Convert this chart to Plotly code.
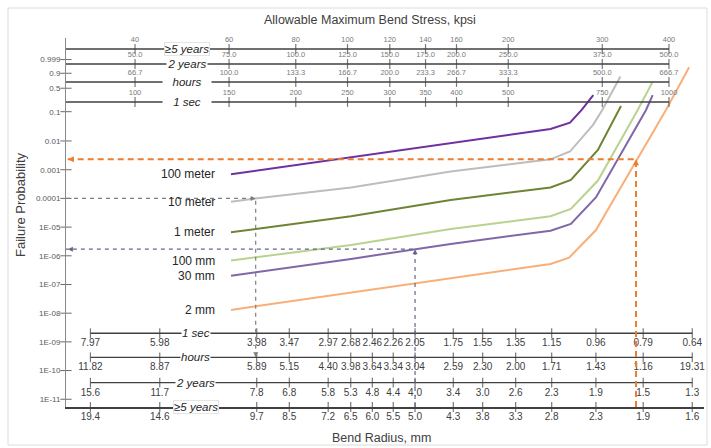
import math
import plotly.graph_objects as go

# ---------------- data ----------------
prob_ticks = [0.999, 0.9, 0.5, 0.1, 0.01, 0.001, 0.0001, 1e-5, 1e-6, 1e-7, 1e-8, 1e-9, 1e-10, 1e-11]
prob_tick_text = ["0.999", "0.9", "0.5", "0.1", "0.01", "0.001", "0.0001", "1E-05", "1E-06",
                  "1E-07", "1E-08", "1E-09", "1E-10", "1E-11"]

# top scales: allowable maximum bend stress, kpsi (positions = >=5 years stress)
stress_5yr_ticks = [40, 60, 80, 100, 120, 140, 160, 200, 300, 400]
top_labels_5yr = ["40", "60", "80", "100", "120", "140", "160", "200", "300", "400"]
top_labels_2yr = ["50.0", "75.0", "100.0", "125.0", "150.0", "175.0", "200.0", "250.0", "375.0", "500.0"]
top_labels_hours = ["66.7", "100.0", "133.3", "166.7", "200.0", "233.3", "266.7", "333.3", "500.0", "666.7"]
top_labels_1sec = ["100", "150", "200", "250", "300", "350", "400", "500", "750", "1000"]

# bottom scales: bend radius, mm (columns located at these >=5-year stresses, kpsi)
radius_col_stress = [33.0, 44.5, 67.6, 77.8, 92.0, 101.4, 111.3, 121.8, 133.8, 157.8,
                     179.1, 206.5, 241.2, 291.9, 357.9, 442.3]
radius_1sec = ["7.97", "5.98", "3.98", "3.47", "2.97", "2.68", "2.46", "2.26", "2.05", "1.75",
               "1.55", "1.35", "1.15", "0.96", "0.79", "0.64"]
radius_hours = ["11.82", "8.87", "5.89", "5.15", "4.40", "3.98", "3.64", "3.34", "3.04", "2.59",
                "2.30", "2.00", "1.71", "1.43", "1.16", "19.31"]
radius_2yr = ["15.6", "11.7", "7.8", "6.8", "5.8", "5.3", "4.8", "4.4", "4.0", "3.4",
              "3.0", "2.6", "2.3", "1.9", "1.5", "1.3"]
radius_5yr = ["19.4", "14.6", "9.7", "8.5", "7.2", "6.5", "6.0", "5.5", "5.0", "4.3",
              "3.8", "3.3", "2.8", "2.3", "1.9", "1.6"]

# failure-probability curves (x = >=5 year stress, kpsi ; y = failure probability)
curve_names = ["100 meter", "10 meter", "1 meter", "100 mm", "30 mm", "2 mm"]
stress_100m = [60.5, 101.5, 156, 240, 261, 274.5, 288.6]
prob_100m = [6.9e-4, 2.7e-3, 8.8e-3, 0.026, 0.043, 0.114, 0.33]
stress_10m = [60.5, 67.2, 101.5, 156, 240, 261, 288.3, 300, 324.4]
prob_10m = [7.6e-5, 1.0e-4, 2.4e-4, 8.6e-4, 2.3e-3, 4.3e-3, 0.036, 0.114, 0.83]
stress_1m = [60.5, 101.5, 156, 240, 262, 294.4, 325.2]
prob_1m = [6.6e-6, 2.4e-5, 8.8e-5, 2.4e-4, 4.4e-4, 4.9e-3, 0.153]
stress_100mm = [60.5, 101.5, 156, 240, 262, 294.4, 349.5, 372.8]
prob_100mm = [6.8e-7, 2.4e-6, 8.6e-6, 2.4e-5, 4.3e-5, 4.2e-4, 0.114, 0.69]
stress_30mm = [60.5, 101.5, 156, 240, 262, 292.1, 362.3, 372.8]
prob_30mm = [2.0e-7, 7.8e-7, 2.6e-6, 7.5e-6, 1.3e-5, 1.1e-4, 0.114, 0.33]
stress_2mm = [60.5, 101.5, 156, 240, 260, 292, 314.8, 348.6, 394.8, 436.3]
prob_2mm = [1.3e-8, 5.2e-8, 1.65e-7, 5.2e-7, 8.6e-7, 7.9e-6, 8.8e-5, 2.3e-3, 0.114, 0.976]

# worked-example guide points (stress, probability)
guide_stress = [67.3, 133.8, 347.0]
guide_prob = [1.0e-4, 1.7e-6, 2.3e-3]

# ---------------- styling / layout ----------------
FONT = "Liberation Sans, Arial, sans-serif"
curve_colors = ["#7030A0", "#BDBDBD", "#6E8433", "#B9D38E", "#8068A8", "#F9AE78"]
curve_widths = [2, 2, 2, 2, 2, 2]

W_PX, H_PX = 711, 448
ML, MR, MT, MB = 66, 7, 38, 41
x_range = [math.log10(29.70), math.log10(465.2)]
y_range = [-25.95, 3.664]          # Weibull units ln(-ln(1-F))
x_min = 10 ** x_range[0]

top_levels = [2.781, 1.577, 0.133, -1.472]
bot_levels = [-20.03, -21.96, -24.0, y_range[0]]


def W(p):
    return math.log(-math.log1p(-p))


def pxx(px):
    return (px - ML) / (W_PX - ML - MR)


def pxy(py):
    return (H_PX - MB - py) / (H_PX - MT - MB)


fig = go.Figure()

# y axis cross ticks
fig.add_trace(go.Scatter(
    x=[x_min] * len(prob_ticks), y=[W(p) for p in prob_ticks], mode="markers",
    marker=dict(symbol="line-ew", size=8, line=dict(color="#6b6b6b", width=1)),
    cliponaxis=False, hoverinfo="skip", showlegend=False))

# curves
curves = [(stress_100m, prob_100m), (stress_10m, prob_10m), (stress_1m, prob_1m),
          (stress_100mm, prob_100mm), (stress_30mm, prob_30mm), (stress_2mm, prob_2mm)]
for (xs, ps), name, col, w in zip(curves, curve_names, curve_colors, curve_widths):
    fig.add_trace(go.Scatter(x=xs, y=[W(p) for p in ps], mode="lines", name=name,
                             line=dict(color=col, width=w), showlegend=False))


def add_row(xs, level, labels, above, lead=None, font_size=10, font_color="#404040",
            line_width=1.3, draw_line=True):
    x = list(xs)
    text = list(labels)
    sizes = [7] * len(xs)
    if lead is not None:
        x = [lead] + x
        text = [""] + text
        sizes = [0] + sizes
    fig.add_trace(go.Scatter(
        x=x, y=[level] * len(x),
        mode=("lines+markers+text" if draw_line else "markers+text"),
        line=dict(color="#404040", width=line_width),
        marker=dict(symbol="line-ns", size=sizes, color="#404040",
                    line=dict(color="#404040", width=1.2)),
        text=text, textposition=("top center" if above else "bottom center"),
        textfont=dict(size=font_size, color=font_color, family=FONT),
        cliponaxis=False, hoverinfo="skip", showlegend=False))


top_label_sets = [top_labels_5yr, top_labels_2yr, top_labels_hours, top_labels_1sec]
for lvl, labs, lw in zip(top_levels, top_label_sets, [1.5, 1.3, 1.3, 1.3]):
    add_row(stress_5yr_ticks, lvl, labs, True, lead=x_min, font_size=7.5,
            font_color="#7a7a7a", line_width=lw)

bot_label_sets = [radius_1sec, radius_hours, radius_2yr, radius_5yr]
for i, (lvl, labs) in enumerate(zip(bot_levels, bot_label_sets)):
    add_row(radius_col_stress, lvl, labs, False, font_size=10, font_color="#404040",
            draw_line=(i < 3))

# guides
guide_styles = [("#7f7f7f", 1.2, "4px,4px"), ("#63668a", 1.2, "4px,4px"), ("#ED7D31", 2, "6px,4px")]
gx, gy = guide_stress, [W(p) for p in guide_prob]
# 10 meter example: from axis to curve, then down to the "hours" scale
fig.add_trace(go.Scatter(x=[x_min, gx[0], gx[0]], y=[gy[0], gy[0], bot_levels[1]], mode="lines",
                         line=dict(color=guide_styles[0][0], width=guide_styles[0][1],
                                   dash=guide_styles[0][2]),
                         hoverinfo="skip", showlegend=False))
fig.add_trace(go.Scatter(x=[gx[0], gx[0]], y=[gy[0], bot_levels[1]], mode="markers",
                         marker=dict(symbol=["arrow-right", "arrow-down"], size=5,
                                     color=guide_styles[0][0]),
                         cliponaxis=False, hoverinfo="skip", showlegend=False))
# 30 mm and 2 mm examples: from bottom up to curve, then left to the axis
for k in (1, 2):
    col, lw, dash = guide_styles[k]
    fig.add_trace(go.Scatter(x=[gx[k], gx[k], x_min], y=[y_range[0], gy[k], gy[k]], mode="lines",
                             line=dict(color=col, width=lw, dash=dash),
                             hoverinfo="skip", showlegend=False))
    fig.add_trace(go.Scatter(x=[gx[k], x_min * 1.008], y=[gy[k], gy[k]], mode="markers",
                             marker=dict(symbol=["arrow-up", "arrow-left"], size=5 if k == 1 else 6,
                                         color=col),
                             cliponaxis=False, hoverinfo="skip", showlegend=False))

annotations = []
# curve labels
for (xs, ps), name in zip(curves, curve_names):
    annotations.append(dict(x=math.log10(57), y=W(ps[0]), xref="x", yref="y", text=name,
                            showarrow=False, xanchor="right", yanchor="middle",
                            font=dict(size=12, color="#262626", family=FONT)))

# scale names on the rows
row_names = ["\u22655 years", "2 years", "hours", "1 sec"]
top_widths = [44, 40, 48, 48]
for lvl, nm, wd in zip(top_levels, row_names, top_widths):
    annotations.append(dict(x=math.log10(50.0), y=lvl, xref="x", yref="y", text="<i>" + nm + "</i>",
                            showarrow=False, bgcolor="white", width=wd, borderpad=0,
                            xanchor="center", yanchor="middle",
                            bordercolor=("#e4e4e4" if nm.startswith("\u2265") else "rgba(0,0,0,0)"),
                            font=dict(size=11.5, color="#262626", family=FONT)))
for lvl, nm in zip(bot_levels, ["1 sec", "hours", "2 years", "\u22655 years"]):
    annotations.append(dict(x=math.log10(52.0), y=lvl, xref="x", yref="y", text="<i>" + nm + "</i>",
                            showarrow=False, bgcolor="white", borderpad=0,
                            xanchor="center", yanchor="middle",
                            bordercolor=("#e4e4e4" if nm.startswith("\u2265") else "rgba(0,0,0,0)"),
                            font=dict(size=11.5, color="#262626", family=FONT)))

# titles
annotations.append(dict(x=pxx(370), y=pxy(20), xref="paper", yref="paper",
                        xanchor="center", yanchor="middle",
                        text="Allowable Maximum Bend Stress, kpsi", showarrow=False,
                        font=dict(size=12.5, color="#404040", family=FONT)))
annotations.append(dict(x=pxx(381), y=pxy(438), xref="paper", yref="paper",
                        xanchor="center", yanchor="middle",
                        text="Bend Radius, mm", showarrow=False,
                        font=dict(size=12.5, color="#404040", family=FONT)))
annotations.append(dict(x=pxx(20), y=pxy(205), xref="paper", yref="paper",
                        xanchor="center", yanchor="middle",
                        text="Failure Probability", showarrow=False, textangle=-90,
                        font=dict(size=13, color="#404040", family=FONT)))

fig.update_layout(
    width=W_PX, height=H_PX,
    margin=dict(l=ML, r=MR, t=MT, b=MB),
    paper_bgcolor="white", plot_bgcolor="white",
    showlegend=False,
    font=dict(family=FONT, color="#404040"),
    xaxis=dict(type="log", range=x_range, showgrid=False, zeroline=False,
               showticklabels=False, ticks="", showline=True, linecolor="#404040", linewidth=1.6),
    yaxis=dict(range=y_range, tickvals=[W(p) for p in prob_ticks], ticktext=prob_tick_text,
               showgrid=False, zeroline=False, showline=True, linecolor="#8a8a8a", linewidth=1,
               ticks="outside", ticklen=3, tickcolor="rgba(0,0,0,0)",
               tickfont=dict(size=8, color="#595959", family=FONT)),
    annotations=annotations,
    shapes=[dict(type="rect", xref="paper", yref="paper", x0=pxx(8), x1=pxx(707),
                 y0=pxy(445), y1=pxy(8), line=dict(color="#dcdcdc", width=1), layer="below")],
)

fig.write_html("out.html", config={"displayModeBar": False},
               post_script="document.body.style.margin='0';document.body.style.overflow='hidden';")
